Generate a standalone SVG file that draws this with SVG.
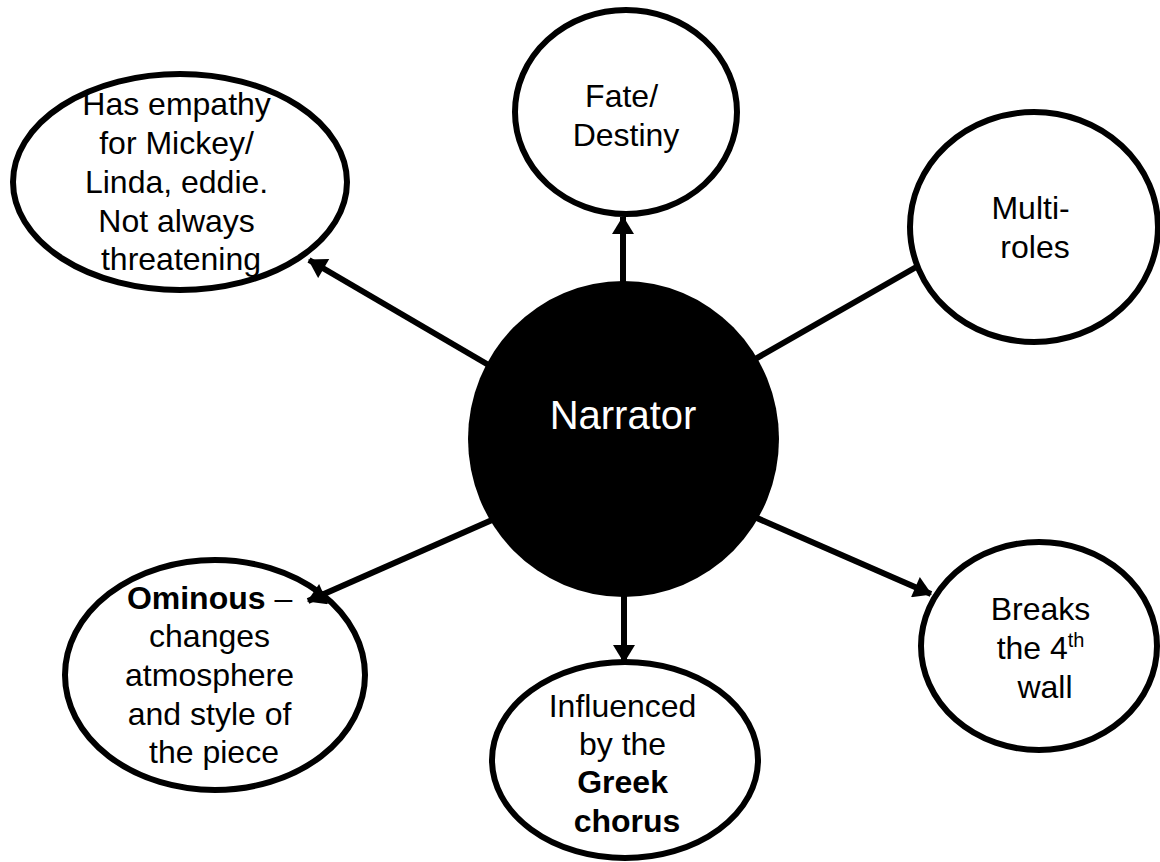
<svg xmlns="http://www.w3.org/2000/svg" width="1160" height="862" viewBox="0 0 1160 862">
  <style>
    .bubble { fill: #ffffff; stroke: #000000; stroke-width: 6; }
    .hub { fill: #000000; stroke: none; }
    .label { font-family: "Liberation Sans", Arial, sans-serif; font-size: 32px; fill: #000000; text-anchor: middle; }
    .hub-label { font-family: "Liberation Sans", Arial, sans-serif; font-size: 40px; fill: #ffffff; text-anchor: middle; }
    .link { stroke: #000000; stroke-width: 6; fill: none; }
    .b { font-weight: bold; }
  </style>
  <defs>
    <marker id="arrow" markerUnits="userSpaceOnUse" markerWidth="20" markerHeight="22" viewBox="0 0 18 22" refX="17" refY="11" orient="auto">
      <path d="M0,0 L18,11 L0,22 Z" fill="#000000"/>
    </marker>
  </defs>

  <rect width="1160" height="862" fill="#ffffff"/>

  <!-- outer bubbles -->
  <g id="node-empathy">
    <ellipse class="bubble" cx="180" cy="182" rx="167" ry="108"/>
    <text class="label">
      <tspan x="181" y="115">Has empathy</tspan>
      <tspan x="181" y="154">for Mickey/</tspan>
      <tspan x="181" y="193">Linda, eddie.</tspan>
      <tspan x="181" y="232">Not always</tspan>
      <tspan x="181" y="270">threatening</tspan>
    </text>
  </g>

  <g id="node-fate">
    <ellipse class="bubble" cx="626" cy="112" rx="111" ry="102"/>
    <text class="label">
      <tspan x="626" y="107">Fate/</tspan>
      <tspan x="626" y="146">Destiny</tspan>
    </text>
  </g>

  <g id="node-multi">
    <ellipse class="bubble" cx="1034" cy="227" rx="124" ry="115"/>
    <text class="label">
      <tspan x="1035" y="219">Multi-</tspan>
      <tspan x="1035" y="258">roles</tspan>
    </text>
  </g>

  <g id="node-ominous">
    <ellipse class="bubble" cx="215" cy="675" rx="150" ry="115"/>
    <text class="label">
      <tspan x="214" y="609"><tspan class="b">Ominous</tspan> –</tspan>
      <tspan x="214" y="647">changes</tspan>
      <tspan x="214" y="686">atmosphere</tspan>
      <tspan x="214" y="725">and style of</tspan>
      <tspan x="214" y="763">the piece</tspan>
    </text>
  </g>

  <g id="node-greek">
    <ellipse class="bubble" cx="625" cy="760" rx="133" ry="98"/>
    <text class="label">
      <tspan x="627" y="717">Influenced</tspan>
      <tspan x="627" y="755">by the</tspan>
      <tspan x="627" y="793" class="b">Greek</tspan>
      <tspan x="627" y="832" class="b">chorus</tspan>
    </text>
  </g>

  <g id="node-wall">
    <ellipse class="bubble" cx="1039" cy="646" rx="118" ry="104"/>
    <text class="label">
      <tspan x="1045" y="620">Breaks</tspan>
      <tspan x="1045" y="659">the 4<tspan font-size="20" dy="-12">th</tspan></tspan>
      <tspan x="1045" y="698">wall</tspan>
    </text>
  </g>

  <!-- spokes from the hub -->
  <g id="connectors">
    <line class="link" x1="492" y1="367" x2="309" y2="260" marker-end="url(#arrow)"/>
    <line class="link" x1="623" y1="300" x2="623" y2="217" marker-end="url(#arrow)"/>
    <line class="link" x1="750" y1="362" x2="918" y2="266"/>
    <line class="link" x1="492" y1="520" x2="308" y2="601" marker-end="url(#arrow)"/>
    <line class="link" x1="624" y1="580" x2="624" y2="662" marker-end="url(#arrow)"/>
    <line class="link" x1="750" y1="515" x2="931" y2="594" marker-end="url(#arrow)"/>
  </g>

  <!-- central hub -->
  <g id="node-narrator">
    <ellipse class="hub" cx="623.5" cy="439" rx="155.5" ry="158"/>
    <text class="hub-label" x="623" y="429">Narrator</text>
  </g>
</svg>
